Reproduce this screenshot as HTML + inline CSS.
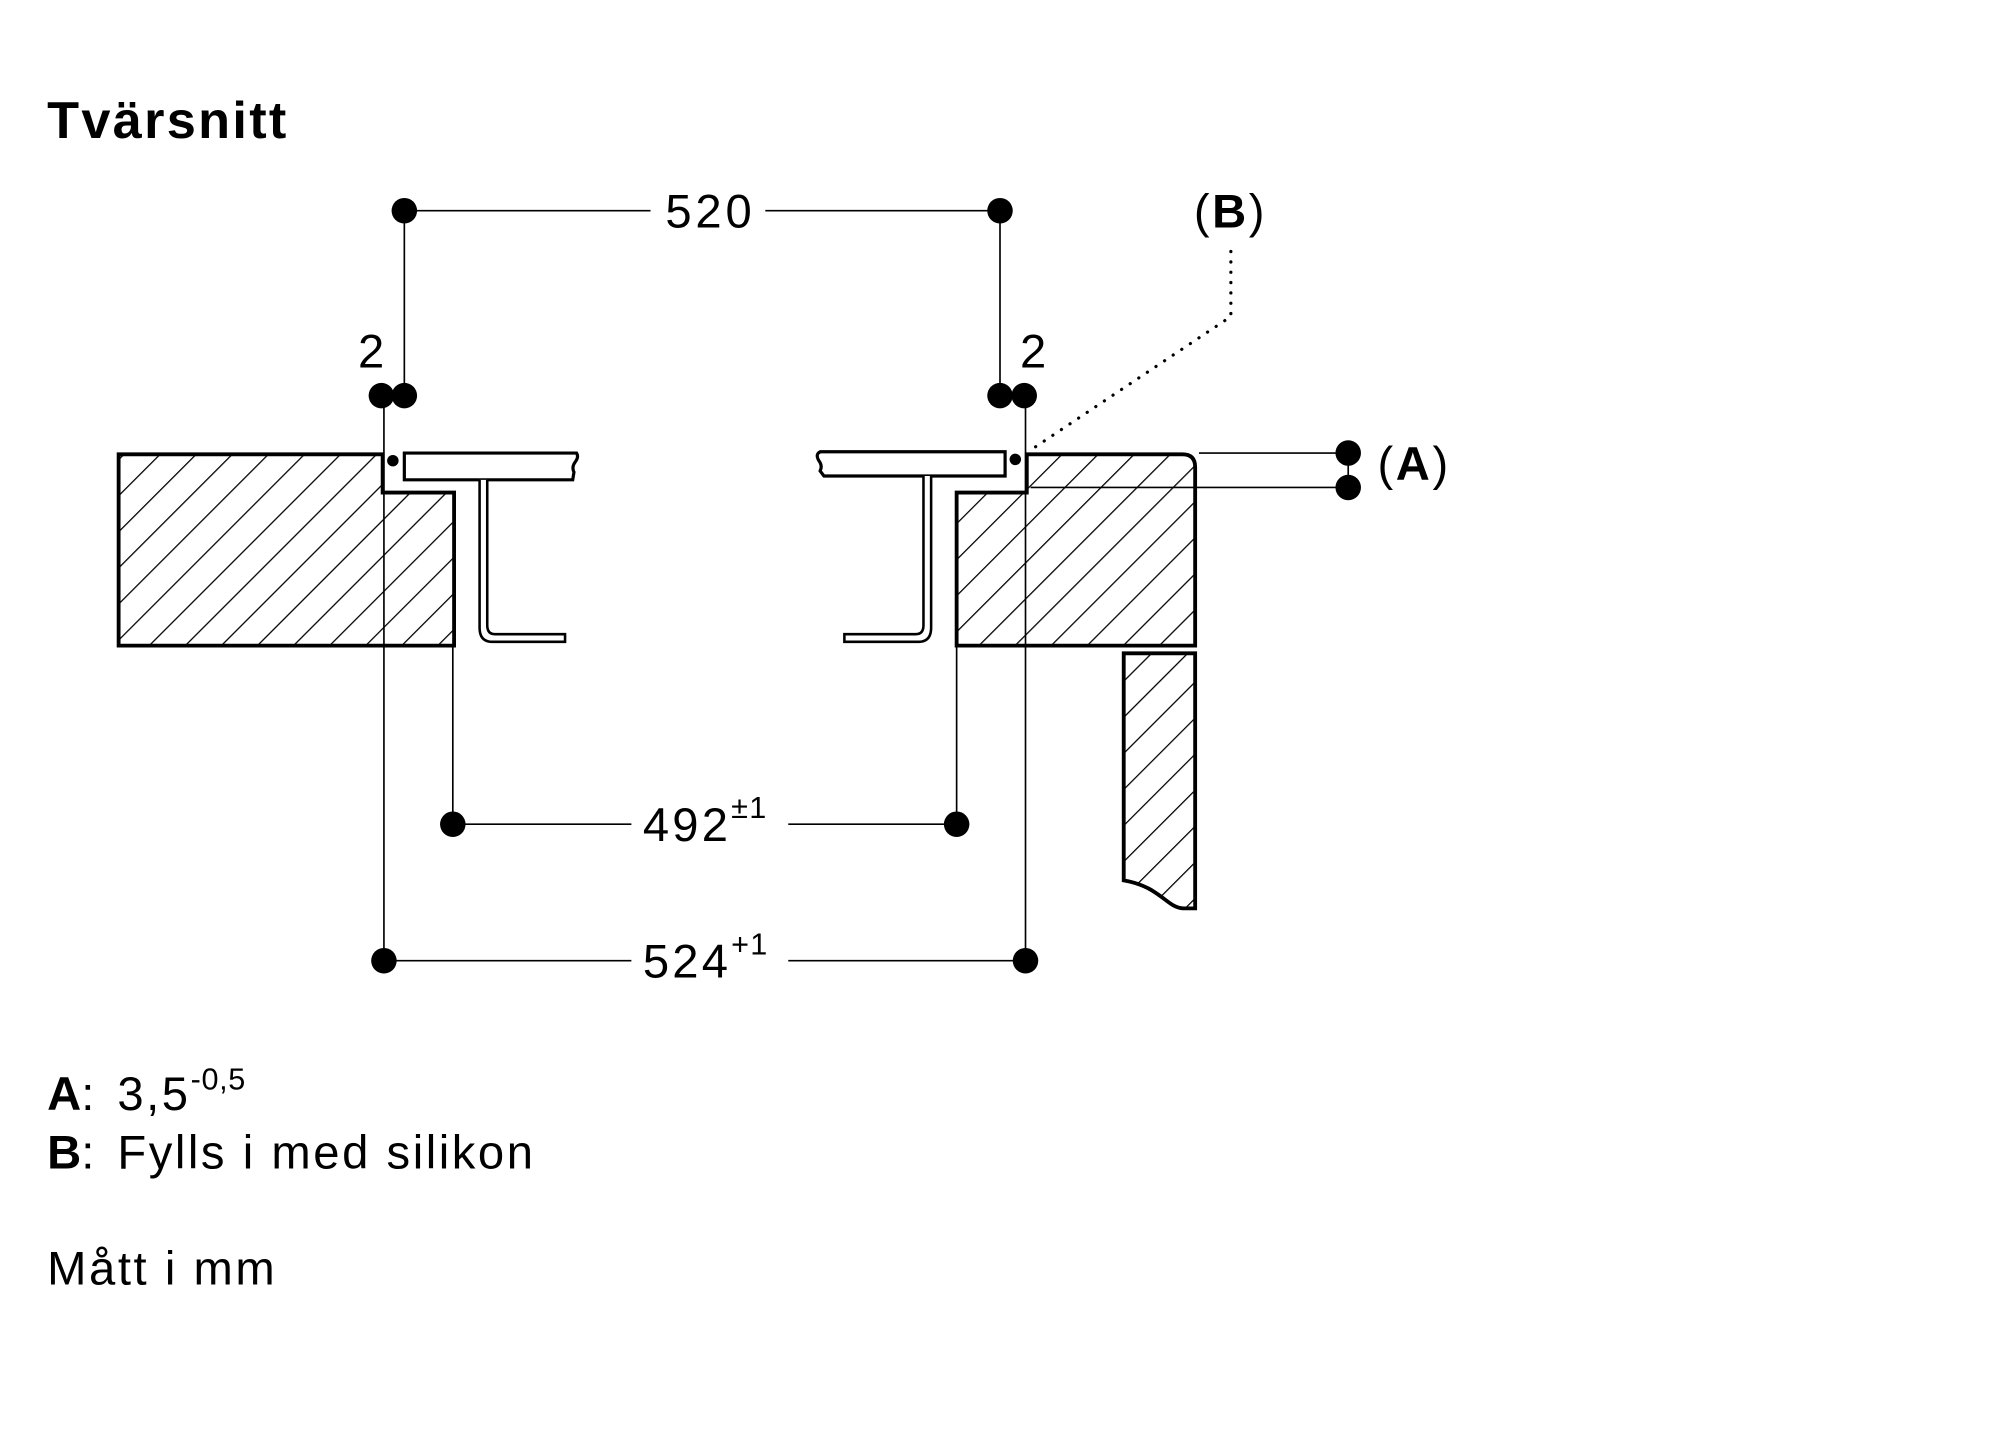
<!DOCTYPE html>
<html><head><meta charset="utf-8"><style>
html,body{margin:0;padding:0;background:#fff}
svg{display:block}
text{font-family:"Liberation Sans",sans-serif;fill:#000}
</style></head><body>
<svg width="2000" height="1452" viewBox="0 0 1568 1138" xmlns="http://www.w3.org/2000/svg">
<defs>
<pattern id="h" patternUnits="userSpaceOnUse" width="20" height="20" patternTransform="rotate(45)">
<line x1="0" y1="0" x2="0" y2="20" stroke="#000" stroke-width="2"/>
</pattern>
</defs>
<text x="37" y="108" font-size="41" font-weight="bold" letter-spacing="1.8">Tvärsnitt</text>

<path d="M93 356 H300 V386 H356 V506 H93 Z" fill="url(#h)" stroke="#000" stroke-width="3"/>
<path d="M805 356 H927 Q937 356 937 366 V506 H750 V386 H805 Z" fill="url(#h)" stroke="#000" stroke-width="3"/>
<path d="M881 512 H937 V712 H928 C915 712 910 695 881 690 Z" fill="url(#h)" stroke="#000" stroke-width="3"/>

<path d="M317 355 H452 Q454 358 451 362 Q448 366 450 370 L449 376 H317 Z" fill="#fff" stroke="#000" stroke-width="2.5"/>
<path d="M376 376 V492 Q376 503 386 503 H443 V497 H388 Q382 497 382 490 V376" fill="#fff" stroke="#000" stroke-width="2"/>
<path d="M788 354 H643 Q639 356 642 361 Q645 365 643 369 L646 373 H788 Z" fill="#fff" stroke="#000" stroke-width="2.5"/>
<path d="M730 373 V492 Q730 503 720 503 H662 V497 H718 Q724 497 724 490 V373" fill="#fff" stroke="#000" stroke-width="2"/>

<g stroke="#000" stroke-width="1.3" fill="none">
<line x1="317" y1="165" x2="510" y2="165"/><line x1="600" y1="165" x2="784" y2="165"/>
<line x1="317" y1="165" x2="317" y2="310"/><line x1="784" y1="165" x2="784" y2="310"/>
<line x1="301" y1="310" x2="301" y2="753"/><line x1="804" y1="310" x2="804" y2="753"/>
<line x1="355" y1="506" x2="355" y2="646"/><line x1="750" y1="506" x2="750" y2="646"/>
<line x1="355" y1="646" x2="495" y2="646"/><line x1="618" y1="646" x2="750" y2="646"/>
<line x1="301" y1="753" x2="495" y2="753"/><line x1="618" y1="753" x2="804" y2="753"/>
<line x1="940" y1="355" x2="1057" y2="355"/><line x1="808" y1="382" x2="1057" y2="382"/>
<line x1="1057" y1="355" x2="1057" y2="382"/>
</g>
<path d="M965 197 V248 L806 354" fill="none" stroke="#000" stroke-width="2.5" stroke-dasharray="0.1 8" stroke-linecap="round"/>
<g fill="#000">
<circle cx="317" cy="165" r="10"/><circle cx="784" cy="165" r="10"/>
<circle cx="299" cy="310" r="10"/><circle cx="317" cy="310" r="10"/>
<circle cx="784" cy="310" r="10"/><circle cx="803" cy="310" r="10"/>
<circle cx="355" cy="646" r="10"/><circle cx="750" cy="646" r="10"/>
<circle cx="301" cy="753" r="10"/><circle cx="804" cy="753" r="10"/>
<circle cx="1057" cy="355" r="10"/><circle cx="1057" cy="382" r="10"/>
<circle cx="308" cy="361" r="4.5"/><circle cx="796" cy="360" r="4.5"/>
</g>
<g font-size="37">
<text x="557" y="178" text-anchor="middle" letter-spacing="3">520</text>
<text x="291" y="288" text-anchor="middle">2</text>
<text x="810" y="288" text-anchor="middle">2</text>
<text x="504" y="659" letter-spacing="2.5">492<tspan font-size="24" dy="-18" letter-spacing="1">±1</tspan></text>
<text x="504" y="766" letter-spacing="2.5">524<tspan font-size="24" dy="-18" letter-spacing="1">+1</tspan></text>
<text x="936" y="178" letter-spacing="2">(<tspan font-weight="bold">B</tspan>)</text>
<text x="1080" y="376" letter-spacing="2">(<tspan font-weight="bold">A</tspan>)</text>
<text x="37" y="870"><tspan font-weight="bold">A</tspan>:</text>
<text x="92" y="870" letter-spacing="2">3,5<tspan font-size="24" dy="-16" letter-spacing="0.5">-0,5</tspan></text>
<text x="37" y="916"><tspan font-weight="bold">B</tspan>:</text>
<text x="92" y="916" letter-spacing="2">Fylls i med silikon</text>
<text x="37" y="1007" letter-spacing="2">Mått i mm</text>
</g>
</svg>
</body></html>
